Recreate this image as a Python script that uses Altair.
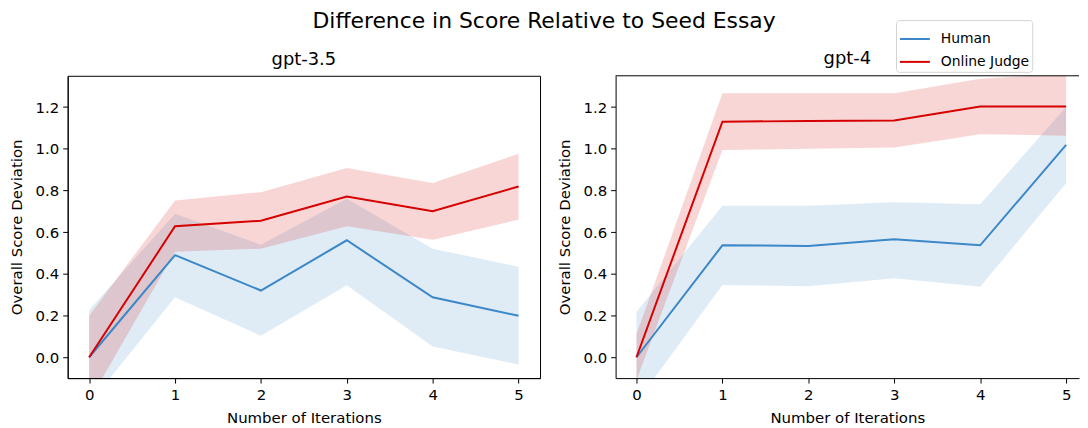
import altair as alt
import pandas as pd

iterations = [0, 1, 2, 3, 4, 5]
series_names = ["Human", "Online Judge"]

# gpt-3.5
g35_human_mean = [0.0, 0.49, 0.32, 0.561, 0.288, 0.199]
g35_human_lo = [-0.224, 0.288, 0.103, 0.345, 0.052, -0.035]
g35_human_hi = [0.227, 0.688, 0.54, 0.76, 0.521, 0.434]
g35_judge_mean = [0.0, 0.628, 0.655, 0.771, 0.70, 0.819]
g35_judge_lo = [-0.21, 0.506, 0.521, 0.628, 0.564, 0.66]
g35_judge_hi = [0.199, 0.752, 0.792, 0.908, 0.836, 0.976]

# gpt-4
g4_human_mean = [0.0, 0.537, 0.534, 0.566, 0.537, 1.019]
g4_human_lo = [-0.217, 0.347, 0.341, 0.379, 0.338, 0.835]
g4_human_hi = [0.217, 0.727, 0.727, 0.743, 0.734, 1.2]
g4_judge_mean = [0.0, 1.13, 1.133, 1.136, 1.203, 1.203]
g4_judge_lo = [-0.11, 0.994, 1.0, 1.006, 1.07, 1.063]
g4_judge_hi = [0.11, 1.266, 1.266, 1.266, 1.336, 1.36]

colors = ["#3b87c8", "#d60000"]
FONT = "DejaVu Sans"


def frame(means, los, his):
    rows = []
    for name, m, lo, hi in zip(series_names, means, los, his):
        for i, a, b, c in zip(iterations, m, lo, hi):
            rows.append({"iteration": i, "series": name, "mean": a, "lo": b, "hi": c})
    return pd.DataFrame(rows)


df35 = frame([g35_human_mean, g35_judge_mean], [g35_human_lo, g35_judge_lo], [g35_human_hi, g35_judge_hi])
df4 = frame([g4_human_mean, g4_judge_mean], [g4_human_lo, g4_judge_lo], [g4_human_hi, g4_judge_hi])

color_scale = alt.Scale(domain=series_names, range=colors)
yscale = alt.Scale(domain=[-0.1, 1.35], nice=False, zero=False)

yaxis = alt.Axis(
    title="Overall Score Deviation", values=[0, 0.2, 0.4, 0.6, 0.8, 1.0, 1.2], format=".1f",
    grid=False, domain=True, domainColor="black", tickColor="black", tickSize=5,
    labelFontSize=15, titleFontSize=15, titleFontWeight="normal", labelColor="black",
    titleColor="black", labelFont=FONT, titleFont=FONT, titlePadding=11, labelPadding=4,
)
xaxis = alt.Axis(
    title="Number of Iterations", values=iterations, format="d", grid=False,
    domain=True, domainColor="black", tickColor="black", tickSize=5,
    labelFontSize=15, titleFontSize=15, titleFontWeight="normal", labelColor="black",
    titleColor="black", labelFont=FONT, titleFont=FONT, titlePadding=8, labelPadding=5,
)

legend_spec = alt.Legend(
    title=None, orient="none", legendX=833, legendY=-56, symbolType="stroke",
    symbolStrokeWidth=2, symbolSize=900, symbolOpacity=1, labelFontSize=14, labelFont=FONT,
    labelColor="black", fillColor="white", strokeColor="#d3d3d3", cornerRadius=3,
    padding=3, rowPadding=-4, labelOffset=10,
)


def panel(df, title, width, xdomain, right_border):
    xscale = alt.Scale(domain=xdomain, nice=False, zero=False)
    base = alt.Chart(df)
    band = base.mark_area(opacity=0.16, clip=True).encode(
        x=alt.X("iteration:Q", scale=xscale, axis=xaxis),
        y=alt.Y("lo:Q", scale=yscale, axis=yaxis),
        y2="hi:Q",
        color=alt.Color("series:N", scale=color_scale, legend=legend_spec),
    )
    line = base.mark_line(strokeWidth=2, clip=True).encode(
        x=alt.X("iteration:Q", scale=xscale, axis=xaxis),
        y=alt.Y("mean:Q", scale=yscale, axis=yaxis),
        color=alt.Color("series:N", scale=color_scale, legend=legend_spec),
    )
    layers = [band, line]
    if not right_border:
        top = alt.Chart(df.head(1)).mark_rule(color="black", strokeWidth=1).encode(
            x=alt.value(0), x2=alt.value(width), y=alt.value(0)
        )
        layers.append(top)
    ch = alt.layer(*layers).properties(
        width=width, height=304,
        title=alt.TitleParams(title, fontSize=18, fontWeight="normal", font=FONT, offset=7, color="black"),
    )
    if right_border:
        ch = ch.properties(view=alt.ViewBackground(stroke="black", strokeWidth=1))
    else:
        ch = ch.properties(view=alt.ViewBackground(stroke=None))
    return ch


left = panel(df35, "gpt-3.5", 475, [-0.25, 5.25], True)
right = panel(df4, "gpt-4", 466, [-0.243, 5.15], False)

chart = (
    alt.hconcat(left, right, spacing=16)
    .properties(
        title=alt.TitleParams("Difference in Score Relative to Seed Essay", fontSize=22,
                              fontWeight="normal", font=FONT, anchor="middle", color="black", offset=-13),
        padding={"left": 0, "top": 0, "right": 0, "bottom": 0},
    )
    .resolve_scale(x="independent")
    .configure_view(stroke="black")
)

chart.save("out.html", embed_options={"renderer": "svg", "actions": False})
